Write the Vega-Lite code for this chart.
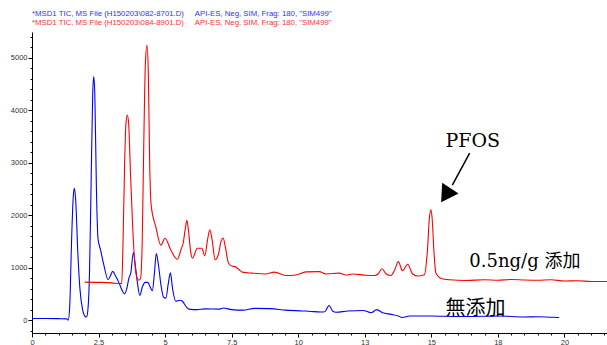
{
  "$schema": "https://vega.github.io/schema/vega-lite/v6.json",
  "width": 575,
  "height": 301,
  "autosize": {"type": "none"},
  "padding": {"left": 32, "top": 32, "right": 0, "bottom": 12},
  "background": "white",
  "config": {
    "view": {"stroke": null},
    "axis": {"grid": false, "domainColor": "#000000", "tickColor": "#000000", "labelColor": "#333333", "labelFont": "Liberation Sans", "labelFontSize": 7.5, "title": null, "labelOverlap": false, "labelFlush": false}
  },
  "title": {
    "text": "*MSD1 TIC, MS File (H150203\\082-8701.D)\u00a0\u00a0\u00a0\u00a0\u00a0API-ES, Neg, SIM, Frag: 180, \"SIM499\"",
    "subtitle": "*MSD1 TIC, MS File (H150203\\084-8901.D)\u00a0\u00a0\u00a0\u00a0\u00a0API-ES, Neg, SIM, Frag: 180, \"SIM499\"",
    "anchor": "start",
    "frame": "group",
    "font": "Liberation Sans",
    "subtitleFont": "Liberation Sans",
    "fontSize": 7.8,
    "subtitleFontSize": 7.8,
    "fontWeight": "normal",
    "color": "#3030ff",
    "subtitleColor": "#ff3030",
    "offset": 5,
    "subtitlePadding": 1.2
  },
  "resolve": {"axis": {"x": "independent", "y": "independent"}},
  "layer": [
    {
      "data": {"values": [
        {"t":0,"v":30,"s":"blank"},{"t":0.5,"v":30,"s":"blank"},{"t":1.0,"v":28,"s":"blank"},{"t":1.3,"v":25,"s":"blank"},{"t":1.36,"v":0,"s":"blank"},{"t":1.42,"v":300,"s":"blank"},{"t":1.48,"v":1400,"s":"blank"},{"t":1.55,"v":2350,"s":"blank"},{"t":1.59,"v":2510,"s":"blank"},{"t":1.64,"v":2300,"s":"blank"},{"t":1.72,"v":1300,"s":"blank"},{"t":1.8,"v":600,"s":"blank"},{"t":1.9,"v":200,"s":"blank"},{"t":2.0,"v":70,"s":"blank"},{"t":2.05,"v":60,"s":"blank"},{"t":2.1,"v":200,"s":"blank"},{"t":2.16,"v":900,"s":"blank"},{"t":2.22,"v":2600,"s":"blank"},{"t":2.28,"v":4300,"s":"blank"},{"t":2.32,"v":4640,"s":"blank"},{"t":2.36,"v":4300,"s":"blank"},{"t":2.42,"v":2500,"s":"blank"},{"t":2.48,"v":1550,"s":"blank"},{"t":2.57,"v":1350,"s":"blank"},{"t":2.7,"v":1050,"s":"blank"},{"t":2.86,"v":770,"s":"blank"},{"t":2.95,"v":850,"s":"blank"},{"t":3.03,"v":930,"s":"blank"},{"t":3.15,"v":830,"s":"blank"},{"t":3.27,"v":710,"s":"blank"},{"t":3.4,"v":550,"s":"blank"},{"t":3.48,"v":500,"s":"blank"},{"t":3.56,"v":600,"s":"blank"},{"t":3.64,"v":800,"s":"blank"},{"t":3.71,"v":900,"s":"blank"},{"t":3.81,"v":1290,"s":"blank"},{"t":3.88,"v":1050,"s":"blank"},{"t":3.95,"v":750,"s":"blank"},{"t":4.05,"v":470,"s":"blank"},{"t":4.15,"v":640,"s":"blank"},{"t":4.25,"v":720,"s":"blank"},{"t":4.35,"v":720,"s":"blank"},{"t":4.45,"v":620,"s":"blank"},{"t":4.52,"v":560,"s":"blank"},{"t":4.6,"v":900,"s":"blank"},{"t":4.67,"v":1270,"s":"blank"},{"t":4.75,"v":1050,"s":"blank"},{"t":4.85,"v":650,"s":"blank"},{"t":4.95,"v":430,"s":"blank"},{"t":5.03,"v":420,"s":"blank"},{"t":5.12,"v":700,"s":"blank"},{"t":5.2,"v":900,"s":"blank"},{"t":5.28,"v":600,"s":"blank"},{"t":5.4,"v":360,"s":"blank"},{"t":5.55,"v":380,"s":"blank"},{"t":5.65,"v":360,"s":"blank"},{"t":5.8,"v":250,"s":"blank"},{"t":5.9,"v":210,"s":"blank"},{"t":6.2,"v":200,"s":"blank"},{"t":6.5,"v":215,"s":"blank"},{"t":7.05,"v":210,"s":"blank"},{"t":7.19,"v":230,"s":"blank"},{"t":7.5,"v":200,"s":"blank"},{"t":7.93,"v":190,"s":"blank"},{"t":8.36,"v":225,"s":"blank"},{"t":8.95,"v":220,"s":"blank"},{"t":9.53,"v":190,"s":"blank"},{"t":10.11,"v":175,"s":"blank"},{"t":10.4,"v":170,"s":"blank"},{"t":10.84,"v":155,"s":"blank"},{"t":11.0,"v":160,"s":"blank"},{"t":11.16,"v":280,"s":"blank"},{"t":11.3,"v":170,"s":"blank"},{"t":11.42,"v":150,"s":"blank"},{"t":11.86,"v":175,"s":"blank"},{"t":12.44,"v":185,"s":"blank"},{"t":12.74,"v":140,"s":"blank"},{"t":12.95,"v":200,"s":"blank"},{"t":13.17,"v":140,"s":"blank"},{"t":13.5,"v":110,"s":"blank"},{"t":13.76,"v":80,"s":"blank"},{"t":13.9,"v":50,"s":"blank"},{"t":14.2,"v":80,"s":"blank"},{"t":15,"v":80,"s":"blank"},{"t":16,"v":70,"s":"blank"},{"t":17,"v":75,"s":"blank"},{"t":17.5,"v":80,"s":"blank"},{"t":18,"v":70,"s":"blank"},{"t":18.5,"v":60,"s":"blank"},{"t":19,"v":65,"s":"blank"},{"t":19.5,"v":55,"s":"blank"},{"t":19.8,"v":50,"s":"blank"},
        {"t":1.98,"v":724,"s":"spiked"},{"t":2.5,"v":720,"s":"spiked"},{"t":3.0,"v":710,"s":"spiked"},{"t":3.3,"v":695,"s":"spiked"},{"t":3.37,"v":700,"s":"spiked"},{"t":3.42,"v":1500,"s":"spiked"},{"t":3.48,"v":3000,"s":"spiked"},{"t":3.53,"v":3750,"s":"spiked"},{"t":3.58,"v":3910,"s":"spiked"},{"t":3.63,"v":3750,"s":"spiked"},{"t":3.7,"v":2800,"s":"spiked"},{"t":3.78,"v":1800,"s":"spiked"},{"t":3.86,"v":1100,"s":"spiked"},{"t":3.95,"v":800,"s":"spiked"},{"t":4.02,"v":760,"s":"spiked"},{"t":4.08,"v":800,"s":"spiked"},{"t":4.14,"v":1500,"s":"spiked"},{"t":4.2,"v":3400,"s":"spiked"},{"t":4.26,"v":4900,"s":"spiked"},{"t":4.32,"v":5240,"s":"spiked"},{"t":4.37,"v":4700,"s":"spiked"},{"t":4.42,"v":3000,"s":"spiked"},{"t":4.48,"v":2170,"s":"spiked"},{"t":4.65,"v":1780,"s":"spiked"},{"t":4.84,"v":1430,"s":"spiked"},{"t":5.0,"v":1560,"s":"spiked"},{"t":5.21,"v":1340,"s":"spiked"},{"t":5.46,"v":1160,"s":"spiked"},{"t":5.6,"v":1350,"s":"spiked"},{"t":5.68,"v":1470,"s":"spiked"},{"t":5.76,"v":1750,"s":"spiked"},{"t":5.82,"v":1900,"s":"spiked"},{"t":5.88,"v":1700,"s":"spiked"},{"t":5.96,"v":1300,"s":"spiked"},{"t":6.03,"v":1180,"s":"spiked"},{"t":6.21,"v":1370,"s":"spiked"},{"t":6.38,"v":1370,"s":"spiked"},{"t":6.49,"v":1225,"s":"spiked"},{"t":6.6,"v":1550,"s":"spiked"},{"t":6.68,"v":1720,"s":"spiked"},{"t":6.76,"v":1550,"s":"spiked"},{"t":6.88,"v":1150,"s":"spiked"},{"t":7.0,"v":1250,"s":"spiked"},{"t":7.1,"v":1500,"s":"spiked"},{"t":7.18,"v":1565,"s":"spiked"},{"t":7.26,"v":1400,"s":"spiked"},{"t":7.38,"v":1090,"s":"spiked"},{"t":7.5,"v":1030,"s":"spiked"},{"t":7.63,"v":1020,"s":"spiked"},{"t":7.78,"v":960,"s":"spiked"},{"t":7.9,"v":915,"s":"spiked"},{"t":8.28,"v":895,"s":"spiked"},{"t":8.78,"v":880,"s":"spiked"},{"t":9.1,"v":915,"s":"spiked"},{"t":9.54,"v":850,"s":"spiked"},{"t":9.91,"v":860,"s":"spiked"},{"t":10.29,"v":920,"s":"spiked"},{"t":10.79,"v":925,"s":"spiked"},{"t":11.04,"v":880,"s":"spiked"},{"t":11.54,"v":895,"s":"spiked"},{"t":11.79,"v":860,"s":"spiked"},{"t":12.04,"v":880,"s":"spiked"},{"t":12.54,"v":855,"s":"spiked"},{"t":12.86,"v":850,"s":"spiked"},{"t":13.0,"v":880,"s":"spiked"},{"t":13.15,"v":980,"s":"spiked"},{"t":13.3,"v":880,"s":"spiked"},{"t":13.48,"v":850,"s":"spiked"},{"t":13.62,"v":950,"s":"spiked"},{"t":13.76,"v":1115,"s":"spiked"},{"t":13.92,"v":940,"s":"spiked"},{"t":14.11,"v":1065,"s":"spiked"},{"t":14.3,"v":880,"s":"spiked"},{"t":14.5,"v":840,"s":"spiked"},{"t":14.74,"v":865,"s":"spiked"},{"t":14.85,"v":1300,"s":"spiked"},{"t":14.93,"v":1950,"s":"spiked"},{"t":14.98,"v":2100,"s":"spiked"},{"t":15.03,"v":1950,"s":"spiked"},{"t":15.1,"v":1300,"s":"spiked"},{"t":15.17,"v":900,"s":"spiked"},{"t":15.4,"v":790,"s":"spiked"},{"t":15.68,"v":770,"s":"spiked"},{"t":16.3,"v":755,"s":"spiked"},{"t":17,"v":770,"s":"spiked"},{"t":17.5,"v":760,"s":"spiked"},{"t":18,"v":775,"s":"spiked"},{"t":18.5,"v":765,"s":"spiked"},{"t":19,"v":760,"s":"spiked"},{"t":19.5,"v":770,"s":"spiked"},{"t":20,"v":745,"s":"spiked"},{"t":20.5,"v":750,"s":"spiked"},{"t":21,"v":735,"s":"spiked"},{"t":21.6,"v":735,"s":"spiked"}
      ]},
      "mark": {"type": "line", "interpolate": "monotone", "strokeWidth": 1.1},
      "encoding": {
        "x": {"field": "t", "type": "quantitative",
          "scale": {"domain": [0, 21.6], "nice": false, "zero": false},
          "axis": {"orient": "bottom", "values": [0,0.5,1,1.5,2,2.5,3,3.5,4,4.5,5,5.5,6,6.5,7,7.5,8,8.5,9,9.5,10,10.5,11,11.5,12,12.5,13,13.5,14,14.5,15,15.5,16,16.5,17,17.5,18,18.5,19,19.5,20,20.5,21,21.5],
            "labels": false, "tickSize": 2}},
        "y": {"field": "v", "type": "quantitative",
          "scale": {"domain": [-245, 5490], "nice": false, "zero": false},
          "axis": {"orient": "left", "values": [-200,0,200,400,600,800,1000,1200,1400,1600,1800,2000,2200,2400,2600,2800,3000,3200,3400,3600,3800,4000,4200,4400,4600,4800,5000,5200,5400],
            "labels": false, "tickSize": 2}},
        "color": {"field": "s", "type": "nominal", "scale": {"domain": ["blank", "spiked"], "range": ["#0000ff", "#ff0000"]}, "legend": null}
      }
    },
    {
      "data": {"values": [{}]},
      "mark": {"type": "rule", "color": "#000000", "strokeWidth": 1.5},
      "encoding": {
        "x": {"datum": 16.44, "type": "quantitative", "scale": {"domain": [0, 21.6], "nice": false, "zero": false},
          "axis": {"orient": "bottom", "values": [0,2.5,5,7.5,10,12.5,15,17.5,20], "format": "~g", "tickSize": 4, "labelPadding": 1, "domain": false}},
        "y": {"datum": 3181, "type": "quantitative", "scale": {"domain": [-245, 5490], "nice": false, "zero": false},
          "axis": {"orient": "left", "values": [0,1000,2000,3000,4000,5000], "format": "d", "tickSize": 4, "labelPadding": 1, "domain": false}},
        "x2": {"datum": 15.79},
        "y2": {"datum": 2571}
      }
    },
    {
      "data": {"values": [{}]},
      "mark": {"type": "point", "shape": "triangle", "filled": true, "color": "#000000", "opacity": 1, "size": 380, "angle": 213},
      "encoding": {
        "x": {"datum": 15.6, "type": "quantitative", "scale": {"domain": [0, 21.6], "nice": false, "zero": false}, "axis": null},
        "y": {"datum": 2425, "type": "quantitative", "scale": {"domain": [-245, 5490], "nice": false, "zero": false}, "axis": null}
      }
    },
    {
      "data": {"values": [{}]},
      "mark": {"type": "text", "text": "PFOS", "font": "DejaVu Serif", "fontSize": 19, "align": "left", "baseline": "alphabetic", "color": "#000000"},
      "encoding": {
        "x": {"datum": 15.53, "type": "quantitative", "scale": {"domain": [0, 21.6], "nice": false, "zero": false}, "axis": null},
        "y": {"datum": 3301, "type": "quantitative", "scale": {"domain": [-245, 5490], "nice": false, "zero": false}, "axis": null}
      }
    },
    {
      "data": {"values": [{}]},
      "mark": {"type": "text", "text": "0.5ng/g 添加", "font": "DejaVu Serif, Noto Sans CJK JP", "fontSize": 18, "align": "left", "baseline": "alphabetic", "color": "#000000"},
      "encoding": {
        "x": {"datum": 16.43, "type": "quantitative", "scale": {"domain": [0, 21.6], "nice": false, "zero": false}, "axis": null},
        "y": {"datum": 1021, "type": "quantitative", "scale": {"domain": [-245, 5490], "nice": false, "zero": false}, "axis": null}
      }
    },
    {
      "data": {"values": [{}]},
      "mark": {"type": "text", "text": "無添加", "font": "Noto Sans CJK JP", "fontSize": 20, "align": "left", "baseline": "alphabetic", "color": "#000000"},
      "encoding": {
        "x": {"datum": 15.53, "type": "quantitative", "scale": {"domain": [0, 21.6], "nice": false, "zero": false}, "axis": null},
        "y": {"datum": 101, "type": "quantitative", "scale": {"domain": [-245, 5490], "nice": false, "zero": false}, "axis": null}
      }
    }
  ]
}
